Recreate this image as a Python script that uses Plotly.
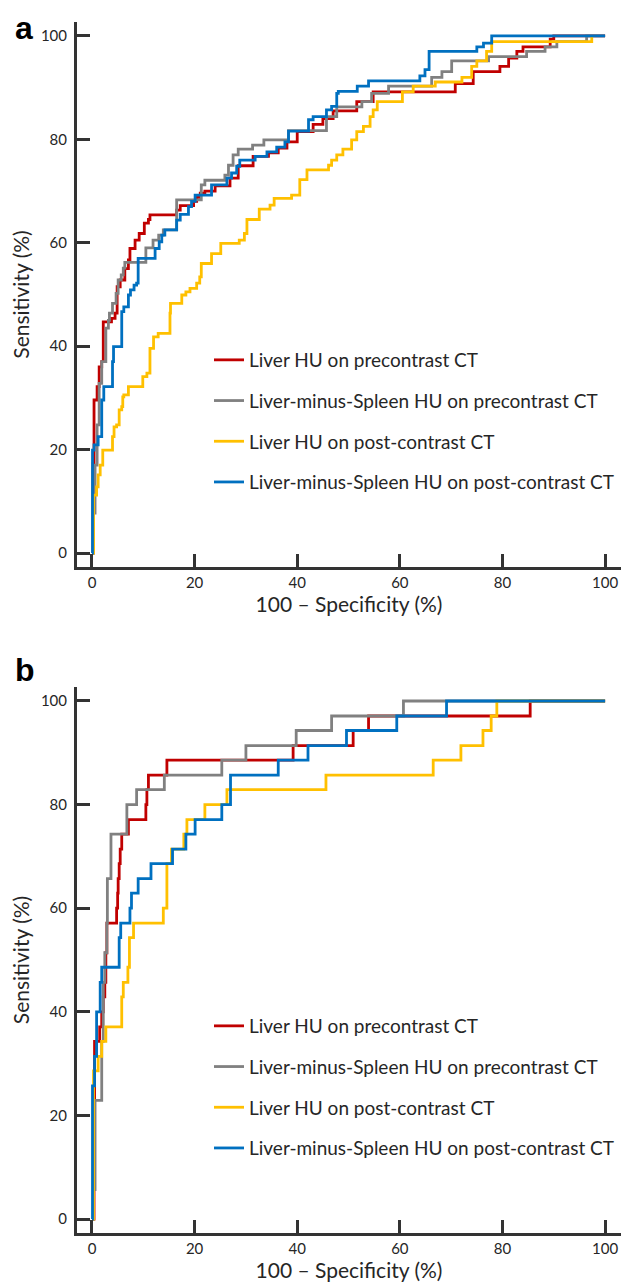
import plotly.graph_objects as go

# ---------------- data (ROC step vertices: x = 100-Specificity, y = Sensitivity) -------------
names = ["Liver HU on precontrast CT",
         "Liver-minus-Spleen HU on precontrast CT",
         "Liver HU on post-contrast CT",
         "Liver-minus-Spleen HU on post-contrast CT"]
colors = ["#C00000", "#808080", "#FFC000", "#0070C0"]

# Panel a
a_red_x = [0, 0.2, 0.4, 1.0, 1.4, 1.9, 2.2, 3.8, 4.5, 4.9, 5.5, 6.4, 7.1, 7.4, 8.4, 9.2, 10.2, 11.0, 11.3,
           16.5, 17.2, 19.8, 20.4, 21.1, 22.0, 24.0, 26.9, 28.5, 31.4, 34.4, 36.3, 38.0, 40.0, 43.1, 45.0,
           47.0, 51.6, 54.8, 70.8, 74.3, 79.5, 81.2, 82.8, 84.0, 89.3, 90.0, 100]
a_red_y = [0, 17.3, 29.6, 32.2, 36.0, 37.0, 44.7, 45.4, 46.4, 51.5, 52.8, 55.0, 56.7, 58.9, 60.5, 61.8, 63.8,
           64.5, 65.4, 66.3, 67.2, 68.0, 68.8, 69.6, 70.0, 71.0, 72.5, 74.9, 76.7, 77.4, 78.3, 79.5, 81.5,
           82.9, 84.0, 85.5, 87.3, 89.2, 90.8, 93.1, 94.1, 95.7, 97.0, 97.9, 99.4, 100, 100]

a_gray_x = [0, 0.3, 0.6, 1.0, 1.4, 1.9, 2.7, 3.2, 3.4, 4.0, 4.7, 5.1, 5.7, 6.1, 6.4, 10.5, 11.9, 13.0, 13.9,
            16.5, 21.3, 22.0, 25.9, 26.6, 27.5, 28.5, 31.3, 33.5, 38.3, 45.7, 47.7, 52.6, 54.5, 57.8, 66.2,
            68.2, 70.1, 77.3, 84.7, 88.3, 90.6, 96.4, 100]
a_gray_y = [0, 7.7, 17.0, 24.8, 32.8, 37.0, 43.5, 45.0, 46.4, 48.3, 50.2, 52.8, 53.8, 55.1, 56.2, 59.0, 60.5,
            61.5, 62.5, 68.3, 71.2, 72.1, 73.1, 75.0, 77.0, 78.1, 78.9, 79.9, 81.7, 84.4, 86.3, 87.3, 88.9,
            90.3, 92.0, 93.1, 95.2, 96.0, 97.0, 97.9, 98.9, 100, 100]

a_yel_x = [0, 0.3, 0.9, 1.2, 1.6, 2.1, 4.0, 4.3, 4.8, 5.3, 5.8, 6.0, 6.2, 7.1, 9.9, 10.7, 11.3, 12.0, 12.9,
           15.2, 15.3, 17.5, 18.3, 19.1, 20.4, 21.0, 21.3, 23.3, 25.1, 28.7, 29.7, 30.2, 32.6, 34.7, 35.5,
           38.9, 40.5, 41.9, 46.1, 46.7, 47.7, 48.9, 50.6, 51.6, 52.9, 54.2, 54.8, 55.6, 60.5, 62.6, 66.9,
           72.1, 74.0, 75.0, 76.9, 77.9, 97.4]
a_yel_y = [0, 11.2, 12.8, 15.1, 17.0, 19.9, 22.5, 24.4, 24.8, 27.7, 28.3, 30.2, 30.6, 32.2, 34.1, 34.8, 39.6,
           41.8, 42.5, 46.4, 48.3, 49.9, 50.5, 51.2, 52.2, 53.4, 56.0, 57.9, 59.9, 60.5, 61.8, 64.5, 66.5,
           67.3, 68.6, 69.2, 72.2, 74.1, 75.0, 76.0, 77.0, 78.1, 79.9, 81.5, 82.5, 84.4, 85.7, 87.3, 89.2,
           90.3, 91.1, 92.0, 94.1, 95.2, 97.0, 98.9, 100]

a_blue_x = [0, 0.1, 0.4, 1.2, 1.9, 2.3, 4.0, 4.2, 5.8, 6.2, 7.1, 7.5, 8.2, 8.7, 9.0, 12.3, 13.1, 13.6, 14.2,
            16.5, 17.2, 18.8, 19.4, 20.1, 23.3, 26.3, 27.2, 28.2, 28.8, 31.8, 34.1, 36.0, 37.6, 38.3, 42.2,
            43.1, 45.7, 46.7, 47.7, 48.0, 51.7, 53.9, 63.9, 64.9, 65.7, 75.0, 76.3, 77.9, 100]
a_blue_y = [0, 19.9, 20.9, 22.5, 29.6, 32.2, 37.0, 39.9, 46.7, 47.6, 49.9, 50.9, 51.8, 52.2, 57.0, 58.9,
            60.2, 61.5, 62.5, 64.4, 65.5, 67.0, 68.0, 69.2, 71.2, 72.5, 73.5, 74.8, 76.0, 76.7, 77.6, 78.5,
            79.5, 81.6, 83.8, 84.4, 85.7, 86.4, 88.9, 89.3, 90.3, 91.3, 92.3, 93.5, 97.0, 97.9, 98.6, 100, 100]

# Panel b
b_red_x = [0, 0.4, 0.5, 1.5, 1.9, 2.2, 2.5, 2.7, 2.9, 4.8, 5.0, 5.1, 5.3, 5.5, 5.8, 7.1, 10.5, 10.7, 11.0,
           14.6, 39.2, 50.9, 53.9, 85.4, 100]
b_red_y = [0, 17.1, 34.3, 37.1, 40.0, 42.9, 45.7, 51.4, 57.1, 60.0, 62.9, 65.7, 68.6, 71.4, 74.3, 77.1,
           80.0, 82.9, 85.7, 88.6, 91.4, 94.3, 97.1, 100, 100]

b_gray_x = [0, 0.3, 0.6, 1.9, 2.2, 2.5, 2.9, 3.0, 3.7, 6.8, 8.7, 14.1, 25.3, 30.0, 39.8, 46.7, 60.7, 100]
b_gray_y = [0, 5.7, 22.9, 34.3, 45.7, 51.4, 57.1, 65.7, 74.3, 80.0, 82.9, 85.7, 88.6, 91.4, 94.3, 97.1,
            100, 100]

b_yel_x = [0, 0.3, 1.2, 1.9, 2.7, 5.8, 6.1, 7.0, 7.3, 8.1, 13.9, 14.6, 15.5, 17.9, 18.5, 22.0, 26.3, 45.6,
           66.5, 71.9, 76.2, 77.8, 78.9, 100]
b_yel_y = [0, 28.6, 31.4, 34.3, 37.1, 42.9, 45.7, 48.6, 54.3, 57.1, 60.0, 68.6, 71.4, 74.3, 77.1, 80.0,
           82.9, 85.7, 88.6, 91.4, 94.3, 97.1, 100, 100]

b_blue_x = [0, 0.1, 0.5, 0.9, 1.6, 1.9, 5.3, 5.6, 7.4, 7.7, 9.0, 11.5, 15.7, 18.3, 20.1, 25.3, 27.0, 36.3,
            42.1, 49.6, 59.4, 69.1, 100]
b_blue_y = [0, 25.7, 31.4, 40.0, 45.7, 48.6, 54.3, 57.1, 60.0, 62.9, 65.7, 68.6, 71.4, 74.3, 77.1, 80.0,
            85.7, 88.6, 91.4, 94.3, 97.1, 100, 100]

x_ticks = [0, 20, 40, 60, 80, 100]
y_ticks = [0, 20, 40, 60, 80, 100]

# ---------------- figure -----------------------------------------------------------------
# The page body has an 8px margin, so the figure is 16px smaller than the window and
# plot-area positions below are given relative to the figure (page pixel - 8).
W, H = 624, 1278
FONT = "Lato"
TXT = "#262626"
AX = "#333333"

fig = go.Figure()

panel_a = [(a_red_x, a_red_y), (a_gray_x, a_gray_y), (a_yel_x, a_yel_y), (a_blue_x, a_blue_y)]
panel_b = [(b_red_x, b_red_y), (b_gray_x, b_gray_y), (b_yel_x, b_yel_y), (b_blue_x, b_blue_y)]

for i, (xs, ys) in enumerate(panel_a):
    fig.add_trace(go.Scatter(x=xs, y=ys, mode="lines", line=dict(color=colors[i], width=2.8, shape="hv"),
                             name=names[i], xaxis="x", yaxis="y", legend="legend",
                             legendgroup="a%d" % i))
for i, (xs, ys) in enumerate(panel_b):
    fig.add_trace(go.Scatter(x=xs, y=ys, mode="lines", line=dict(color=colors[i], width=2.8, shape="hv"),
                             name=names[i], xaxis="x2", yaxis="y2", legend="legend2",
                             legendgroup="b%d" % i))

xdom = [69 / W, 613 / W]
ya_dom = [1 - 559 / H, 1 - 14 / H]
yb_dom = [1 - 1225 / H, 1 - 679 / H]

axis_common = dict(showline=True, linecolor=AX, linewidth=3, ticks="inside", ticklen=13, tickwidth=3,
                   tickcolor=AX, showgrid=False, zeroline=False, mirror=False, automargin=False,
                   tickfont=dict(family=FONT, size=15, color=TXT), fixedrange=True)

TITLE_FONT = dict(size=21, family=FONT, color=TXT)
LEG_FONT = dict(family=FONT, size=19, color=TXT)

xr = [-2.92, 103.1]
yr = [-2.7, 102.7]

fig.update_layout(
    width=W, height=H, margin=dict(l=0, r=0, t=0, b=0, autoexpand=False),
    paper_bgcolor="white", plot_bgcolor="white",
    font=dict(family=FONT, color=TXT),
    xaxis=dict(domain=xdom, range=xr, tickvals=x_ticks, anchor="y",
               title=dict(text="100 – Specificity (%)", font=TITLE_FONT, standoff=8),
               **axis_common),
    yaxis=dict(domain=ya_dom, range=yr, tickvals=y_ticks, anchor="x", ticklabelstandoff=4,
               title=dict(text="Sensitivity (%)", font=TITLE_FONT, standoff=10),
               **axis_common),
    xaxis2=dict(domain=xdom, range=xr, tickvals=x_ticks, anchor="y2",
                title=dict(text="100 – Specificity (%)", font=TITLE_FONT, standoff=8),
                **axis_common),
    yaxis2=dict(domain=yb_dom, range=yr, tickvals=y_ticks, anchor="x2", ticklabelstandoff=4,
                title=dict(text="Sensitivity (%)", font=TITLE_FONT, standoff=10),
                **axis_common),
    legend=dict(x=201 / W, y=1 - 333 / H, xanchor="left", yanchor="top", bgcolor="rgba(0,0,0,0)",
                font=LEG_FONT, traceorder="grouped", tracegroupgap=13, itemwidth=30),
    legend2=dict(x=201 / W, y=1 - 999 / H, xanchor="left", yanchor="top", bgcolor="rgba(0,0,0,0)",
                 font=LEG_FONT, traceorder="grouped", tracegroupgap=13, itemwidth=30),
    showlegend=True,
    annotations=[
        dict(text="<b>a</b>", x=5 / W, y=1, xref="paper", yref="paper", xanchor="left",
             yanchor="top", showarrow=False, font=dict(family="Liberation Sans", size=32, color="#000")),
        dict(text="<b>b</b>", x=5 / W, y=1 - 642 / H, xref="paper", yref="paper", xanchor="left",
             yanchor="top", showarrow=False, font=dict(family="Liberation Sans", size=32, color="#000")),
    ],
)

fig.write_html("out.html")
